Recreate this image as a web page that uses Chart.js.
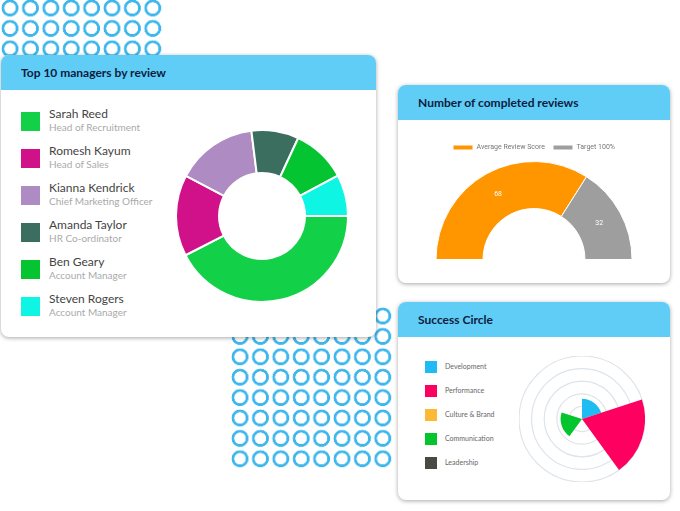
<!DOCTYPE html>
<html><head><meta charset="utf-8">
<script src="https://cdn.jsdelivr.net/npm/chart.js@4"></script>
<style>
body{margin:0;width:680px;height:511px;background:#fff;position:relative;overflow:hidden;font-family:Lato,"Open Sans",sans-serif}
.dots{position:absolute;background-image:radial-gradient(circle at 10px 10px,transparent 5.5px,#3db6ec 6px,#3db6ec 8.2px,transparent 8.7px);background-size:20.4px 20.4px}
.card{position:absolute;background:#fff;border-radius:8px;box-shadow:0 1px 4px rgba(0,0,0,.35);overflow:hidden}
.hd{background:#5fcdf5;height:35px;line-height:35px;font-weight:bold;color:#0d1b3e;font-size:12px;padding-left:20px}
.lg{position:absolute;left:20px;white-space:nowrap}
.lg .it{position:relative;height:37px}
.lg .sw{position:absolute;left:0;top:5px;width:19px;height:19px}
.lg .n{position:absolute;left:28px;top:-1px;font-size:12px;color:#444}
.lg .r{position:absolute;left:28px;top:14px;font-size:10px;color:#aaa}
.l3 .it{position:relative;height:24px}
.l3 .sw{position:absolute;left:0;top:0;width:12px;height:12px}
.l3 .n{position:absolute;left:20px;top:1px;font-size:7px;color:#666}
canvas{position:absolute}
</style></head><body>
<div class="dots" style="left:0;top:-2px;width:164px;height:62px"></div>
<div class="dots" style="left:230px;top:306px;width:164px;height:164px"></div>

<div class="card" style="left:1px;top:55px;width:375px;height:282px">
<div class="hd">Top 10 managers by review</div>
<div class="lg" style="top:52px" id="lg1"></div>
</div>
<div class="card" style="left:398px;top:85px;width:272px;height:198px">
<div class="hd">Number of completed reviews</div>
</div>
<div class="card" style="left:398px;top:302px;width:272px;height:198px">
<div class="hd">Success Circle</div>
<div class="lg l3" style="top:59px;left:27px" id="lg3"></div>
</div>
<canvas id="c1" style="left:175px;top:129px;width:174px;height:174px"></canvas>
<canvas id="c2" style="left:414px;top:136px;width:240px;height:124px"></canvas>
<canvas id="c3" style="left:519px;top:356px;width:126px;height:126px"></canvas>
<script>
const managers=["Sarah Reed","Romesh Kayum","Kianna Kendrick","Amanda Taylor","Ben Geary","Steven Rogers"];
const roles=["Head of Recruitment","Head of Sales","Chief Marketing Officer","HR Co-ordinator","Account Manager","Account Manager"];
const reviewShares=[42.5,15.3,15.3,8.9,10.3,7.8];
const managerColors=["#12d047","#d0118a","#ae8bc2","#3c6e60","#04c431","#0ff5e4"];
const gaugeLabels=["Average Review Score","Target 100%"];
const gaugeValues=[68,32];
const gaugeColors=["#ff9600","#9e9e9e"];
const circleLabels=["Development","Performance","Culture & Brand","Communication","Leadership"];
const circleValues=[3.2,10,0,3.4,0];
const circleColors=["#1ebcf2","#fd0060","#fbb936","#05c52e","#4a4a44"];

const lg1=document.getElementById('lg1');
managers.forEach((m,i)=>{lg1.innerHTML+=`<div class="it"><div class="sw" style="background:${managerColors[i]}"></div><div class="n">${m}</div><div class="r">${roles[i]}</div></div>`});
const lg3=document.getElementById('lg3');
circleLabels.forEach((m,i)=>{lg3.innerHTML+=`<div class="it"><div class="sw" style="background:${circleColors[i]}"></div><div class="n">${m}</div></div>`});

new Chart(document.getElementById('c1'),{type:'doughnut',
data:{labels:managers,datasets:[{data:reviewShares,backgroundColor:managerColors,borderColor:'#fff',borderWidth:2}]},
options:{responsive:false,animation:false,rotation:90,cutout:'50%',plugins:{legend:{display:false},tooltip:{enabled:false}},layout:{padding:0}}});

const valueLabels={id:'vl',afterDatasetsDraw(ch){const c=ch.ctx;ch.getDatasetMeta(0).data.forEach((a,i)=>{const p=a.tooltipPosition();c.save();c.fillStyle='#fff';c.font='7px Roboto';c.textAlign='center';c.textBaseline='middle';c.fillText(ch.data.datasets[0].data[i],p.x,p.y);c.restore();});}};
new Chart(document.getElementById('c2'),{type:'doughnut',
data:{labels:gaugeLabels,datasets:[{data:gaugeValues,backgroundColor:gaugeColors,borderColor:'#fff',borderWidth:1}]},
options:{responsive:false,animation:false,rotation:-90,circumference:180,cutout:'52%',
plugins:{legend:{position:'top',labels:{boxWidth:20,boxHeight:5,font:{size:7,family:'Roboto'},color:'#777',padding:8}},tooltip:{enabled:false}}},
plugins:[valueLabels]});

new Chart(document.getElementById('c3'),{type:'polarArea',
data:{labels:circleLabels,datasets:[{data:circleValues,backgroundColor:circleColors,borderWidth:0}]},
options:{responsive:false,animation:false,plugins:{legend:{display:false},tooltip:{enabled:false}},
scales:{r:{min:0,max:10,ticks:{display:false,stepSize:2},grid:{color:'#dde4ea',lineWidth:1.2},angleLines:{display:false}}}}});
</script>
</body></html>
